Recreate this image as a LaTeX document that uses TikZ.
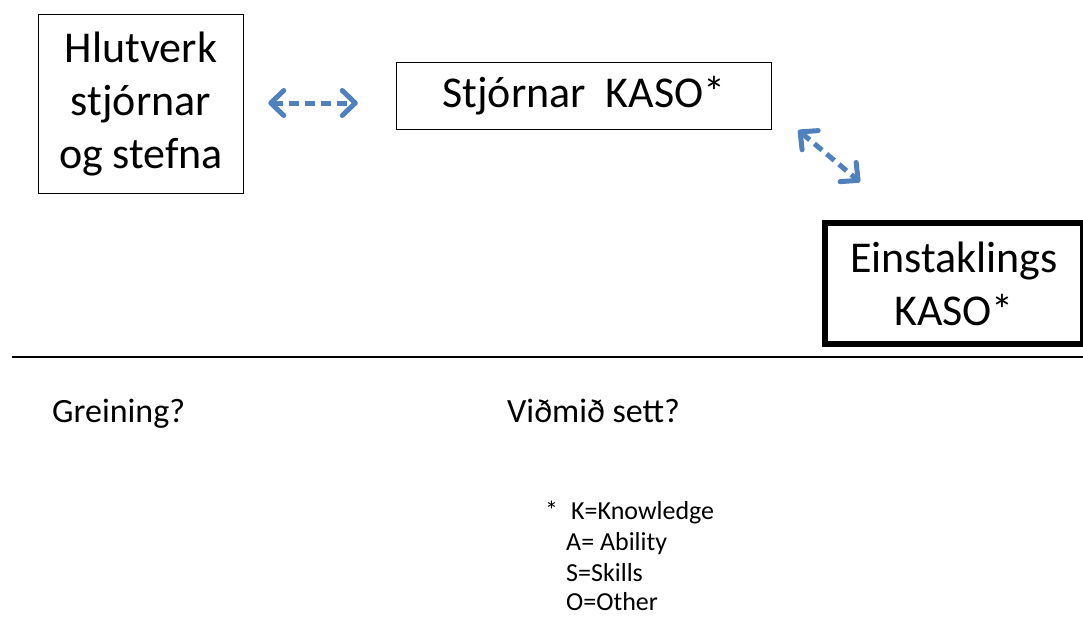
\documentclass[tikz,border=0pt]{standalone}
\usepackage{fontspec}
\setmainfont{Carlito}
\usetikzlibrary{arrows.meta}
\definecolor{arrowblue}{RGB}{79,129,189}

\begin{document}
\begin{tikzpicture}[x=1pt,y=-1pt,
        box/.style={draw,line width=1.5pt,inner sep=0pt,align=center,
            font=\fontsize{44}{53}\selectfont},
        bidash/.style={{Straight Barb[round,length=13pt,width=25pt]}-{Straight Barb[round,length=13pt,width=25pt]},
            arrowblue,line width=5pt,dash pattern=on 10pt off 6pt},
        txt/.style={anchor=base west,inner sep=0pt}]
\useasboundingbox (0,0) rectangle (1083,616);

\node[box,minimum width=205pt,minimum height=179pt] (hlutverk) at (141,104)
    {Hlutverk\\stjórnar\\og stefna};
\node[box,minimum width=375pt,minimum height=67pt] (stjorn) at (584,96)
    {Stjórnar~~KASO*};
\node[box,line width=6pt,minimum width=258pt,minimum height=121pt] (einst) at (954,283.5)
    {Einstaklings\\KASO*};

\draw[bidash] ([xshift=24pt,yshift=1pt]hlutverk.east) -- ([xshift=-38pt,yshift=-7pt]stjorn.west);
\draw[bidash] ([xshift=26pt]stjorn.south east) -- ([xshift=38pt,yshift=38pt]einst.north west);

\draw[line width=1.5pt] (12,357) coordinate (lstart) -- (1083,357) coordinate (lend);

\node[txt,font=\fontsize{34}{40}\selectfont] (greining) at (52,422) {Greining?};
\node[txt,font=\fontsize{34}{40}\selectfont] (vidmid) at (507,422) {Viðmið sett?};

\node[txt,font=\fontsize{26}{32}\selectfont] (star) at (545,519) {*};
\node[txt,font=\fontsize{26}{32}\selectfont] (key1) at (571,519) {K=Knowledge};
\node[txt,font=\fontsize{26}{32}\selectfont] (key2) at (566,550) {A= Ability};
\node[txt,font=\fontsize{26}{32}\selectfont] (key3) at (566,581) {S=Skills};
\node[txt,font=\fontsize{26}{32}\selectfont] (key4) at (566,610) {O=Other};
\end{tikzpicture}
\end{document}
